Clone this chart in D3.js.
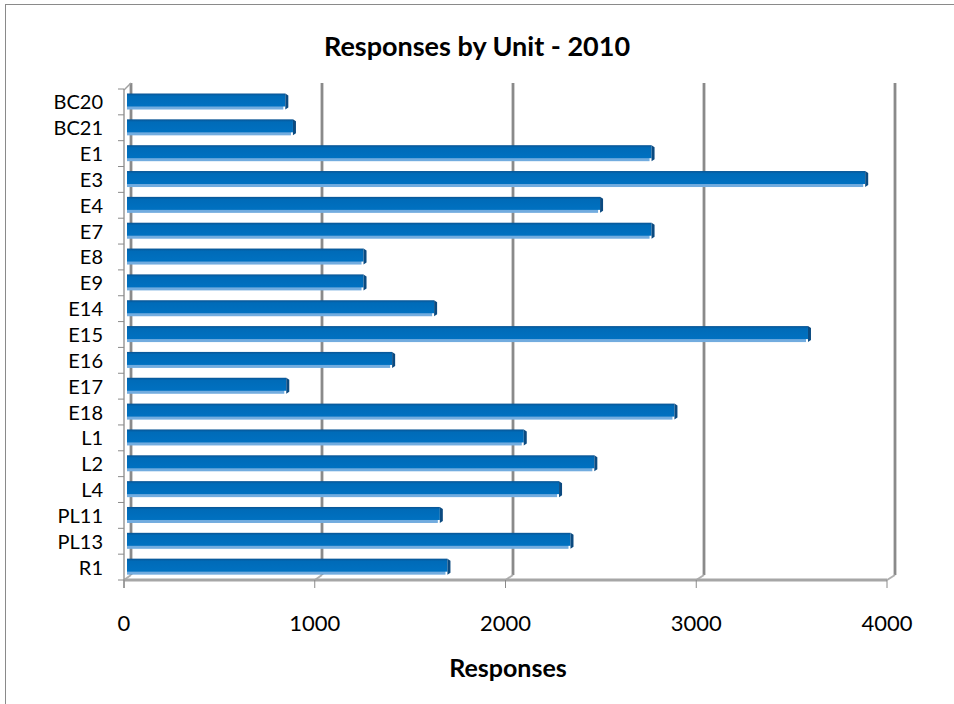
<!DOCTYPE html>
<html>
<head>
<meta charset="utf-8">
<script src="https://cdn.jsdelivr.net/npm/d3@7"></script>
<style>
  body { margin: 0; background: #fff; }
  svg text { font-family: Lato, "Open Sans", sans-serif; fill: #000; }
</style>
</head>
<body>
<div id="chart"></div>
<script>
// data
const units = ["BC20", "BC21", "E1", "E3", "E4", "E7", "E8", "E9", "E14", "E15",
               "E16", "E17", "E18", "L1", "L2", "L4", "PL11", "PL13", "R1"];
const responses = [830, 870, 2750, 3870, 2480, 2750, 1240, 1240, 1610, 3570,
                   1390, 835, 2870, 2080, 2450, 2265, 1640, 2325, 1680];
const xTicks = [0, 1000, 2000, 3000, 4000];
const chartTitle = "Responses by Unit - 2010";
const xTitle = "Responses";

const w = 954;
const h = 704;

const svg = d3.select("#chart")
      .append("svg")
      .attr("width", w)
      .attr("height", h);

// frame (only top / left edges show in the picture)
svg.append("rect")
      .attr("x", 5.5).attr("y", 4.5)
      .attr("width", 980).attr("height", 740)
      .attr("fill", "none")
      .attr("stroke", "#8a8a8a");

// scales: front plane, back wall, and bar plane (3d look)
const xFront = d3.scaleLinear().domain([0, 4000]).range([124, 887]);
const xBack = d3.scaleLinear().domain([0, 4000]).range([131, 895]);
const xBar = d3.scaleLinear().domain([0, 4000]).range([127, 890]);
const y = d3.scaleBand().domain(units).range([89, 580]).padding(0);
const floorFront = 580, floorBack = 575, wallTop = 83;

// back wall gridlines (incl. the left wall)
const grid = svg.append("g");
grid.selectAll("line.grid")
      .data(xTicks)
      .enter()
      .append("line")
      .attr("class", "grid")
      .attr("x1", d => xBack(d)).attr("x2", d => xBack(d))
      .attr("y1", wallTop).attr("y2", floorBack)
      .style("stroke", "#8a8a8a")
      .style("stroke-width", 2.8);

// floor diagonals
grid.selectAll("line.diag")
      .data(xTicks)
      .enter()
      .append("line")
      .attr("class", "diag")
      .attr("x1", d => xBack(d)).attr("y1", floorBack)
      .attr("x2", d => xFront(d)).attr("y2", floorFront)
      .style("stroke", "#b0b0b0")
      .style("stroke-width", 2);

// top-left corner diagonal
grid.append("line")
      .attr("x1", xFront(0)).attr("y1", 90)
      .attr("x2", xBack(0)).attr("y2", wallTop)
      .style("stroke", "#a0a0a0")
      .style("stroke-width", 1.5);

// floor front edge
grid.append("line")
      .attr("x1", xFront(0)).attr("x2", xFront(4000))
      .attr("y1", floorFront).attr("y2", floorFront)
      .style("stroke", "#a6a6a6")
      .style("stroke-width", 3);

// left front axis
grid.append("line")
      .attr("x1", xFront(0)).attr("x2", xFront(0))
      .attr("y1", 89).attr("y2", 588)
      .style("stroke", "#9a9a9a")
      .style("stroke-width", 1.5);

// y ticks at band edges
const yEdges = units.map(d => y(d)).concat([y.range()[1]]);
grid.selectAll("line.ytick")
      .data(yEdges)
      .enter()
      .append("line")
      .attr("class", "ytick")
      .attr("x1", xFront(0) - 6).attr("x2", xFront(0))
      .attr("y1", d => d).attr("y2", d => d)
      .style("stroke", "#8a8a8a")
      .style("stroke-width", 1);

// x ticks
grid.selectAll("line.xtick")
      .data(xTicks)
      .enter()
      .append("line")
      .attr("class", "xtick")
      .attr("x1", d => xFront(d)).attr("x2", d => xFront(d))
      .attr("y1", floorFront).attr("y2", floorFront + 8)
      .style("stroke", "#8a8a8a")
      .style("stroke-width", 1);

// bars
const defs = svg.append("defs");
const grad = defs.append("linearGradient")
      .attr("id", "barFace")
      .attr("x1", 0).attr("y1", 0).attr("x2", 0).attr("y2", 1);
grad.append("stop").attr("offset", "0%").attr("stop-color", "#0a5493");
grad.append("stop").attr("offset", "20%").attr("stop-color", "#006bb8");
grad.append("stop").attr("offset", "100%").attr("stop-color", "#0071c1");

const bandOff = 4.5;
const faceH = 13;

const bars = svg.selectAll("g.bar")
      .data(units.map((u, i) => ({ unit: u, value: responses[i] })))
      .enter()
      .append("g")
      .attr("class", "bar");

// light lower strip
bars.append("rect")
      .attr("x", xBar(0))
      .attr("y", d => y(d.unit) + bandOff + faceH - 1)
      .attr("width", d => xBar(d.value) - xBar(0) - 2)
      .attr("height", 4)
      .style("fill", "#72acdf");

// front face
bars.append("rect")
      .attr("x", xBar(0))
      .attr("y", d => y(d.unit) + bandOff)
      .attr("width", d => xBar(d.value) - xBar(0))
      .attr("height", faceH)
      .style("fill", "url(#barFace)");

// dark end cap
bars.append("path")
      .attr("d", d => {
            const x0 = xBar(d.value), t = y(d.unit) + bandOff;
            return `M${x0},${t} L${x0 + 3},${t + 2} L${x0 + 3},${t + faceH + 1} L${x0},${t + faceH + 3} Z`;
      })
      .style("fill", "#0b4a80");

// category labels
svg.selectAll("text.cat")
      .data(units)
      .enter()
      .append("text")
      .attr("class", "cat")
      .attr("x", 103)
      .attr("y", d => y(d) + y.bandwidth() / 2 + 7.5)
      .attr("text-anchor", "end")
      .style("font-size", "20px")
      .text(d => d);

// x tick labels
svg.selectAll("text.xlab")
      .data(xTicks)
      .enter()
      .append("text")
      .attr("class", "xlab")
      .attr("x", d => xFront(d))
      .attr("y", 631)
      .attr("text-anchor", "middle")
      .style("font-size", "22px")
      .text(d => d);

// titles
svg.append("text")
      .attr("x", 477).attr("y", 56)
      .attr("text-anchor", "middle")
      .style("font-size", "27px")
      .style("font-weight", "bold")
      .text(chartTitle);

svg.append("text")
      .attr("x", 508).attr("y", 677)
      .attr("text-anchor", "middle")
      .style("font-size", "25px")
      .style("font-weight", "bold")
      .text(xTitle);
</script>
</body>
</html>
